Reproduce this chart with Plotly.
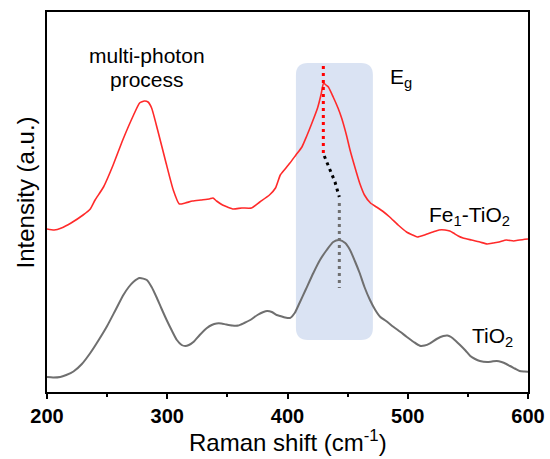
import plotly.graph_objects as go

# ---- data (Raman shift in cm^-1, intensity in arbitrary units) ----
fe_x = [200, 206, 212, 220, 230, 236, 240, 247, 255, 263, 272, 277, 281, 284, 287, 292, 299,
        305, 310, 315, 321, 328, 335, 338, 341, 346, 350, 355, 362, 370, 377, 385, 390,
        394, 398, 402, 407, 412, 416, 420, 425, 428, 430, 432, 434, 438, 442, 445, 449,
        452, 456, 460, 464, 469, 474, 480, 485, 492, 499, 504, 508, 514, 521, 526, 531,
        535, 538, 542, 546, 553, 560, 566, 571, 576, 582, 588, 593, 600]
fe_y = [163, 162, 164, 169, 177, 183, 192, 205, 227, 252, 277, 289, 291, 290, 284, 262, 229,
        202, 188, 189, 191, 192, 193, 194, 191, 187, 185, 183, 184, 184, 190, 197, 204,
        217, 223, 229, 237, 245, 256, 268, 284, 298, 309, 307, 305, 295, 284, 274, 257,
        242, 225, 209, 197, 189, 185, 180, 175, 167, 160, 157, 155, 157, 160, 162, 162,
        161, 159, 156, 154, 152, 150, 148, 149, 150, 152, 151, 152, 153]

ti_x = [200, 205, 211, 216, 222, 229, 236, 243, 250, 257, 263.5, 268, 272, 277, 283, 287,
        291, 295, 299.5, 304, 308, 312, 315, 318, 322, 327, 333, 337, 341, 345, 349, 354,
        359, 364, 369, 375, 380, 383, 387, 391, 394, 398, 402, 406, 410, 415, 421.5, 427,
        432.6, 438, 443, 448, 452, 456, 460, 464, 468.6, 473, 477, 482, 488, 494, 499,
        505, 510, 514, 518.5, 524, 529.6, 533, 536, 540, 543.5, 548, 552, 556, 560, 566,
        570, 574, 578, 582, 585, 589, 593, 597, 600]
ti_y = [15, 14.5, 15, 17, 20.5, 28, 39, 52, 66, 82, 97, 105, 110.3, 114, 112, 105,
        95, 84, 72, 61, 52, 47, 46, 47, 50.3, 57, 64, 67, 68.5, 68.5, 67.5, 66.5,
        66.5, 69, 72, 77, 80, 81, 80, 77, 76, 74.5, 74, 79, 89, 102, 119, 132,
        142, 150, 152, 149, 142, 131, 119, 105, 92, 82, 75.3, 71, 65.3, 60, 55.3,
        50, 46.3, 46.5, 48.7, 53, 56, 56.5, 55, 51, 47, 41.5, 36, 33, 31, 30,
        30.5, 31, 30, 28, 26, 23.5, 21, 20.5, 20.3]

# Eg peak-shift guide (peak positions)
eg_fe_x = [429.8, 429.8]
eg_fe_y = [326, 237]
eg_shift_x = [430.6, 434.5, 437, 439.5, 441.4, 443.1]
eg_shift_y = [236, 224, 217, 210, 202, 195]
eg_ti_x = [443.1, 443.1]
eg_ti_y = [189, 104]

# highlighted Eg band
band_x = [407, 471]
band_y = [52, 329]

x_ticks = [200, 300, 400, 500, 600]

FONT = "Arial, Liberation Sans, sans-serif"

fig = go.Figure()

fig.add_trace(go.Scatter(x=ti_x, y=ti_y, mode="lines", name="TiO2",
                         line=dict(color="#6f6f6f", width=2, shape="spline", smoothing=0.6)))
fig.add_trace(go.Scatter(x=fe_x, y=fe_y, mode="lines", name="Fe1-TiO2",
                         line=dict(color="#ff2a2a", width=1.6, shape="spline", smoothing=0.5)))

fig.add_trace(go.Scatter(x=eg_fe_x, y=eg_fe_y, mode="lines",
                         line=dict(color="#ff0000", width=3, dash="3px,4px")))
fig.add_trace(go.Scatter(x=eg_shift_x, y=eg_shift_y, mode="lines",
                         line=dict(color="#000000", width=3, dash="3px,4px")))
fig.add_trace(go.Scatter(x=eg_ti_x, y=eg_ti_y, mode="lines",
                         line=dict(color="#6f6f6f", width=3, dash="3px,4px")))

# rounded rectangle band
x0, x1 = band_x
y0, y1 = band_y
rx, ry = 10, 12
path = (f"M {x0+rx},{y0} L {x1-rx},{y0} Q {x1},{y0} {x1},{y0+ry} "
        f"L {x1},{y1-ry} Q {x1},{y1} {x1-rx},{y1} L {x0+rx},{y1} Q {x0},{y1} {x0},{y1-ry} "
        f"L {x0},{y0+ry} Q {x0},{y0} {x0+rx},{y0} Z")
fig.add_shape(type="path", path=path, fillcolor="#dae3f3", line=dict(width=0),
              layer="below", xref="x", yref="y")

ann_font = dict(family=FONT, size=21, color="#000000")
fig.add_annotation(x=283, y=337, text="multi-photon", showarrow=False, font=ann_font,
                   xanchor="center", yanchor="middle")
fig.add_annotation(x=283, y=313, text="process", showarrow=False, font=ann_font,
                   xanchor="center", yanchor="middle")
fig.add_annotation(x=483.6, y=314, text="E<sub>g</sub>", showarrow=False, font=ann_font,
                   xanchor="left", yanchor="middle")
fig.add_annotation(x=516, y=176, text="Fe<sub>1</sub>-TiO<sub>2</sub>", showarrow=False,
                   font=ann_font, xanchor="left", yanchor="middle")
fig.add_annotation(x=551.5, y=55, text="TiO<sub>2</sub>", showarrow=False, font=ann_font,
                   xanchor="left", yanchor="middle")

# axis titles
title_font = dict(family=FONT, size=24, color="#000000")
fig.add_annotation(xref="paper", yref="paper", x=0.501, y=-0.128,
                   text="Raman shift (cm<sup>-1</sup>)", showarrow=False, font=title_font,
                   xanchor="center", yanchor="middle")
fig.add_annotation(xref="paper", yref="paper", x=-0.0437, y=0.525,
                   text="Intensity (a.u.)", showarrow=False, font=title_font, textangle=-90,
                   xanchor="center", yanchor="middle")

fig.update_layout(
    width=550, height=459,
    margin=dict(l=47, r=22, t=12, b=67, autoexpand=False),
    paper_bgcolor="white", plot_bgcolor="white",
    showlegend=False,
    font=dict(family=FONT, color="#000000"),
)
fig.update_xaxes(
    range=[200, 600], tickvals=x_ticks, ticktext=[str(v) for v in x_ticks],
    showgrid=False, zeroline=False, showline=True, linecolor="#000000", linewidth=1.5,
    mirror=True, ticks="outside", ticklen=5, tickwidth=1.5, tickcolor="#000000",
    minor=dict(dtick=50, ticks="outside", ticklen=3, tickwidth=1.5, tickcolor="#000000"),
    tickfont=dict(family=FONT, size=20, color="#000000", weight="bold"),
    automargin=False,
)
fig.update_yaxes(
    range=[0, 380], showticklabels=False, ticks="",
    showgrid=False, zeroline=False, showline=True, linecolor="#000000", linewidth=1.5,
    mirror=True, automargin=False,
)

fig.write_html("out.html", config={"displayModeBar": False},
               post_script="document.body.style.margin='0';document.body.style.overflow='hidden';")
